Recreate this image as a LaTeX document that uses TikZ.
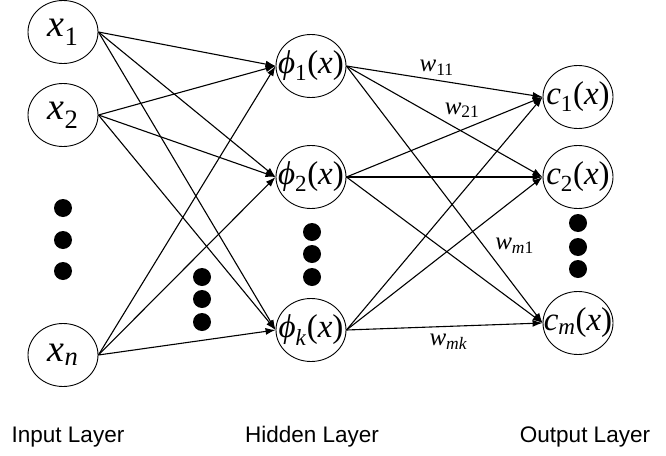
\documentclass[tikz,border=0pt]{standalone}
\usepackage{fontspec}
\setmainfont{Liberation Serif}
\setsansfont{Liberation Sans}
\usetikzlibrary{shapes,arrows.meta,positioning}
\tikzset{
    -{Latex[length=10pt,width=7pt]},
    unit/.style ={ellipse, draw, line width=0.9pt, minimum width = 70pt, minimum height = 63pt, inner sep=0pt},
    dot/.style = {circle, fill, inner sep=0pt, minimum size=18pt, node contents={}},
    wt/.style = {inner sep=1pt, font=\fontsize{25}{30}\selectfont},
    layer/.style = {font=\sffamily\fontsize{22.5}{26}\selectfont}
}
\newcommand{\var}[2]{\textit{#1}\textsubscript{#2}}

\begin{document}
\begin{tikzpicture}[x=1pt,y=-1pt,line width=1.1pt]
	\tikzstyle{lx}=[inner sep=0pt, font=\fontsize{38}{44}\selectfont]
	\tikzstyle{lh}=[inner sep=0pt, font=\fontsize{33}{38}\selectfont]
	\useasboundingbox (0,0) rectangle (666,455);

	% input layer
	\node[unit, label = {[lx]center:\var{x}{1}}] (i1) at (63,32) {};
	\node (i2) [unit, label = {[lx]center:\var{x}{2}}] at (63,115) {};
	\node (in) [unit, label = {[lx]center:\var{x}{\textit{n}}}] at (63,355) {};

	% hidden layer
	\node (h1) [unit, label = {[lh]center:\var{ϕ}{1}(\textit{x})}] at (311,66) {};
	\node (h2) [unit, label = {[lh]center:\var{ϕ}{2}(\textit{x})}] at (311,177) {};
	\node (hk) [unit, label = {[lh]center:\var{ϕ}{\textit{k}}(\textit{x})}] at (311,330) {};

	% output layer
	\node (o1) [unit, label = {[lh]center:\var{c}{1}(\textit{x})}] at (578,97) {};
	\node (o2) [unit, label = {[lh]center:\var{c}{2}(\textit{x})}] at (578,177) {};
	\node (om) [unit, label = {[lh]center:\var{c}{\textit{m}}(\textit{x})}] at (578,323) {};

	% dots
	\node (di1) at (63,208) [dot];
	\node (di2) at (63,240) [dot];
	\node (di3) at (63,271) [dot];
	\node (dm1) at (202,277) [dot];
	\node (dm2) at (202,299) [dot];
	\node (dm3) at (202,322) [dot];
	\node (dh1) at (312,232) [dot];
	\node (dh2) at (312,254) [dot];
	\node (dh3) at (312,277) [dot];
	\node (do1) at (578,223) [dot];
	\node (do2) at (578,247) [dot];
	\node (do3) at (578,269) [dot];

	\path (i1.east) edge (h1.west);
	\path (i1.east) edge (h2.west);
	\path (i1.east) edge (hk.west);
	\path (i2.east) edge (h1.west);
	\path (i2.east) edge (h2.west);
	\path (i2.east) edge (hk.west);
	\path (in.east) edge (h1.west);
	\path (in.east) edge (h2.west);
	\path (in.east) edge (hk.west);

	\path (h1.east) edge node[wt, pos=0.46, above=3pt] {\var{w}{11}} (o1.west);
	\path (h1.east) edge node[wt, pos=0.59, above=12pt] {\var{w}{21}} (o2.west);
	\path (h1.east) edge node[wt, pos=0.70, right=10pt] {\var{w}{\textit{m}1}} (om.west);
	\path (h2.east) edge (o1.west);
	\path (h2.east) edge (o2.west);
	\path (h2.east) edge (om.west);
	\path (hk.east) edge (o1.west);
	\path (hk.east) edge (o2.west);
	\path (hk.east) edge node[wt, pos=0.52, below=6pt] {\var{w}{\textit{mk}}} (om.west);

	% layer names
	\node[layer] (li) at (68,437) {Input Layer};
	\node[layer] (lh) at (312,437) {Hidden Layer};
	\node[layer] (lo) at (585,437) {Output Layer};
\end{tikzpicture}
\end{document}
